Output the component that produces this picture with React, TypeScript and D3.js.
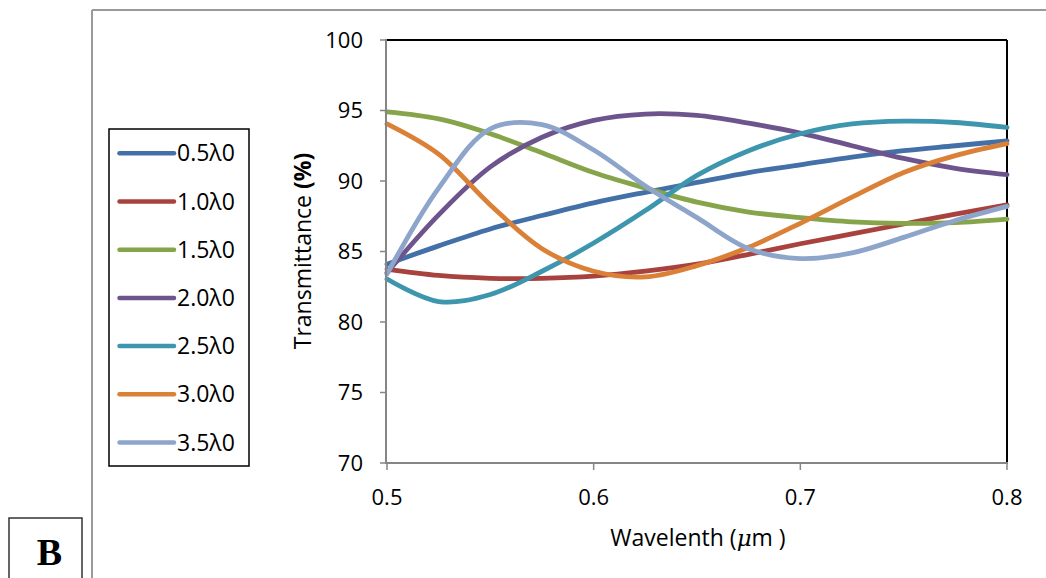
import React from "react";
import * as d3 from "d3";

const wavelengths = [0.5, 0.525, 0.55, 0.575, 0.6, 0.625, 0.65, 0.675, 0.7, 0.725, 0.75, 0.775, 0.8];

const seriesNames = ["0.5λ0", "1.0λ0", "1.5λ0", "2.0λ0", "2.5λ0", "3.0λ0", "3.5λ0"];
const s05 = [84.1, 85.4, 86.6, 87.55, 88.45, 89.2, 89.9, 90.6, 91.15, 91.7, 92.15, 92.5, 92.85];
const s10 = [83.75, 83.3, 83.1, 83.1, 83.25, 83.6, 84.1, 84.8, 85.55, 86.25, 86.95, 87.65, 88.3];
const s15 = [94.9, 94.4, 93.35, 92.0, 90.6, 89.5, 88.5, 87.8, 87.4, 87.1, 87.0, 87.05, 87.3];
const s20 = [83.5, 87.6, 91.0, 93.1, 94.3, 94.75, 94.65, 94.1, 93.4, 92.5, 91.6, 90.9, 90.45];
const s25 = [83.05, 81.45, 81.95, 83.6, 85.6, 87.9, 90.4, 92.15, 93.35, 94.05, 94.25, 94.15, 93.8];
const s30 = [94.05, 91.9, 88.3, 85.2, 83.6, 83.2, 84.0, 85.3, 87.0, 88.85, 90.6, 91.8, 92.65];
const s35 = [83.4, 89.5, 93.7, 94.0, 92.2, 89.65, 87.4, 85.2, 84.5, 84.9, 86.0, 87.2, 88.2];
const seriesValues = [s05, s10, s15, s20, s25, s30, s35];
const colors = ["#4470A8", "#A8423F", "#86A44A", "#6E548D", "#3D96AE", "#DA8137", "#8EA5CB"];

const yTicks = [70, 75, 80, 85, 90, 95, 100];
const xTicks = [0.5, 0.6, 0.7, 0.8];

const FONT = "'Open Sans', sans-serif";

export default function App() {
  const x = d3.scaleLinear().domain([0.5, 0.8]).range([387, 1007]);
  const y = d3.scaleLinear().domain([70, 100]).range([463, 40]);
  const line = d3
    .line<number>()
    .x((_, i) => x(wavelengths[i]))
    .y((d) => y(d))
    .curve(d3.curveCatmullRom.alpha(0.5));

  const legendX = 109;
  const legendY = 129;
  const legendStep = 48.2;

  return (
    <svg
      width={1046}
      height={578}
      style={{ position: "absolute", left: 0, top: 0, background: "#fff" }}
      fontFamily={FONT}
    >
      <rect x={0} y={0} width={1046} height={578} fill="#fff" />
      {/* outer frame */}
      <line x1={92} y1={10} x2={1046} y2={10} stroke="#9a9a9a" strokeWidth={2} />
      <line x1={92} y1={10} x2={92} y2={578} stroke="#9a9a9a" strokeWidth={2} />

      {/* B box */}
      <rect x={9} y={518} width={73} height={80} fill="none" stroke="#333" strokeWidth={1.5} />
      <text
        x={49.5}
        y={565}
        textAnchor="middle"
        fontFamily="'Liberation Serif', serif"
        fontWeight="bold"
        fontSize={38}
        fill="#000"
      >
        B
      </text>

      {/* plot border top/right */}
      <line x1={x(0.5)} y1={y(100)} x2={x(0.8)} y2={y(100)} stroke="#000" strokeWidth={2} />
      <line x1={x(0.8)} y1={y(100)} x2={x(0.8)} y2={y(70)} stroke="#000" strokeWidth={2} />

      {/* series */}
      {seriesValues.map((vals, i) => (
        <path
          key={i}
          d={line(vals) || ""}
          fill="none"
          stroke={colors[i]}
          strokeWidth={4.8}
          strokeLinecap="round"
        />
      ))}

      {/* y axis */}
      <line x1={x(0.5) - 1} y1={y(100) - 1} x2={x(0.5) - 1} y2={y(70) + 1} stroke="#868686" strokeWidth={2} />
      {yTicks.map((t) => (
        <g key={t}>
          <line x1={x(0.5) - 7} y1={y(t)} x2={x(0.5) - 1} y2={y(t)} stroke="#868686" strokeWidth={1.5} />
          <text x={363} y={y(t)} dy="0.35em" textAnchor="end" fontSize={22} fill="#000">
            {t}
          </text>
        </g>
      ))}

      {/* x axis */}
      <line x1={x(0.5) - 2} y1={y(70)} x2={x(0.8) + 1} y2={y(70)} stroke="#868686" strokeWidth={2} />
      {xTicks.map((t) => (
        <g key={t}>
          <line x1={x(t)} y1={y(70)} x2={x(t)} y2={y(70) + 7} stroke="#868686" strokeWidth={1.5} />
          <text x={x(t)} y={505} textAnchor="middle" fontSize={22} fill="#000">
            {t.toFixed(1)}
          </text>
        </g>
      ))}

      {/* axis titles */}
      <text x={698} y={546} textAnchor="middle" fontSize={23} fill="#000">
        Wavelenth (<tspan fontStyle="italic" fontFamily="'DejaVu Serif', serif">μ</tspan>m )
      </text>
      <text
        transform="translate(311,251) rotate(-90)"
        textAnchor="middle"
        fontSize={23}
        fill="#000"
      >
        Transmittance <tspan fontWeight="bold">(%)</tspan>
      </text>

      {/* legend */}
      <rect
        x={legendX}
        y={legendY}
        width={140}
        height={337}
        fill="#fff"
        stroke="#000"
        strokeWidth={1.5}
      />
      {seriesNames.map((name, i) => {
        const ly = 153.3 + i * legendStep;
        return (
          <g key={name}>
            <line
              x1={119.5}
              y1={ly}
              x2={174}
              y2={ly}
              stroke={colors[i]}
              strokeWidth={4.5}
              strokeLinecap="round"
            />
            <text x={177} y={ly} dy="0.35em" fontSize={23} fill="#000">
              {name}
            </text>
          </g>
        );
      })}
    </svg>
  );
}
